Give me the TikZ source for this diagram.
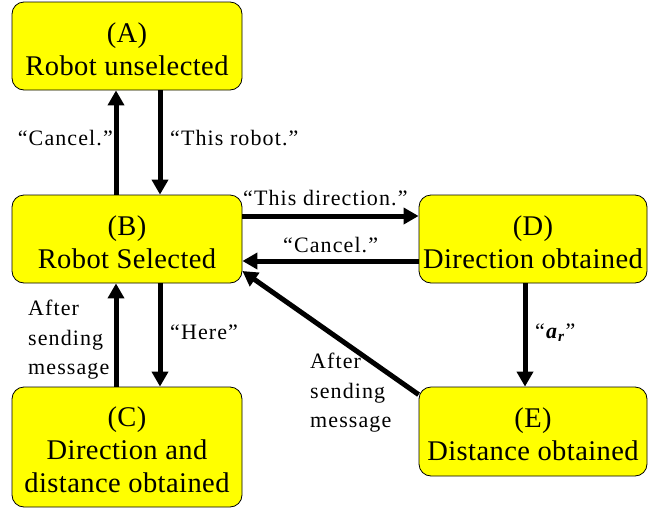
\documentclass[tikz,border=0pt]{standalone}
\usepackage{fontspec}
\setmainfont{Liberation Serif}
\newfontfamily\lblfont[LetterSpace=5]{Liberation Serif}
\newfontfamily\boxfont[LetterSpace=1.5]{Liberation Serif}
\usetikzlibrary{arrows.meta}
\definecolor{boxyellow}{RGB}{255,255,0}
\begin{document}
\begin{tikzpicture}[x=1pt,y=-1pt,
  state/.style={draw=black, line width=0.8pt, fill=boxyellow, rounded corners=12pt,
    minimum width=230pt, minimum height=88pt, inner sep=0pt},
  statetext/.style={align=center, inner sep=0pt, yshift=-3pt,
    font=\boxfont\fontsize{28.5}{33}\selectfont},
  lbl/.style={font=\lblfont\fontsize{22}{29.5}\selectfont, inner sep=0pt},
  arr/.style={line width=5pt, -{Triangle[length=15pt,width=16pt]}}]
\useasboundingbox (0,0) rectangle (648,509);

\node[state] (A) at (127,46) {};
\node[state] (B) at (127,239) {};
\node[state, minimum height=120pt] (C) at (127,447) {};
\node[state, minimum width=228pt] (D) at (533,239) {};
\node[state, minimum width=228pt, minimum height=89pt] (E) at (533,431.5) {};

\node[statetext] (tA) at (A.center) {(A)\\Robot unselected};
\node[statetext] (tB) at (B.center) {(B)\\Robot Selected};
\node[statetext] (tC) at (C.center) {(C)\\Direction and\\distance obtained};
\node[statetext] (tD) at (D.center) {(D)\\Direction obtained};
\node[statetext] (tE) at (E.center) {(E)\\Distance obtained};

\draw[arr] ([xshift=-11pt]B.north) -- ([xshift=-11pt]A.south);
\draw[arr] ([xshift=33pt]A.south) -- ([xshift=33pt]B.north);
\draw[arr] ([xshift=-11pt]C.north) -- ([xshift=-11pt]B.south);
\draw[arr] ([xshift=33pt]B.south) -- ([xshift=33pt]C.north);
\draw[arr] ([yshift=23pt]B.east) -- ([yshift=23pt]D.west);
\draw[arr] ([yshift=-22pt]D.west) -- ([yshift=-22pt]B.east);
\draw[arr] ([xshift=-8pt]D.south) -- ([xshift=-8pt]E.north);
\draw[arr] ([yshift=-8pt]E.north west) -- ([yshift=-32pt]B.east);

\node[lbl, anchor=east] (l1) at (113,138) {“Cancel.”};
\node[lbl, anchor=west] (l2) at (170,138) {“This robot.”};
\node[lbl, anchor=west] (l3) at (243,198) {“This direction.”};
\node[lbl, anchor=west] (l4) at (283,245) {“Cancel.”};
\node[lbl, anchor=west, align=left] (l5) at (28,340) {After\\sending\\message};
\node[lbl, anchor=west] (l6) at (170,332) {“Here”};
\node[lbl, anchor=west] (l7) at (535,333) {“\textbf{\textit{a}}\textsubscript{\textbf{\textit{r}}}”};
\node[lbl, anchor=west, align=left] (l8) at (310,393) {After\\sending\\message};
\end{tikzpicture}
\end{document}
